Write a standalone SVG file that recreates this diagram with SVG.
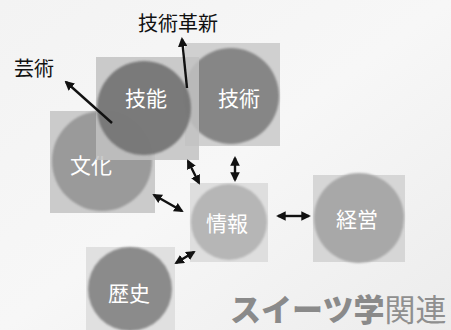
<svg xmlns="http://www.w3.org/2000/svg" width="451" height="330" viewBox="0 0 451 330">
<defs>
<linearGradient id="bg" x1="0" y1="0" x2="1" y2="1">
<stop offset="0" stop-color="#f3f3f3"/>
<stop offset="0.5" stop-color="#f7f7f7"/>
<stop offset="1" stop-color="#ececec"/>
</linearGradient>
<filter id="soft" x="-10%" y="-10%" width="120%" height="120%"><feGaussianBlur stdDeviation="0.9"/></filter>
<marker id="ah" viewBox="0 0 10 10" refX="8" refY="5" markerWidth="4" markerHeight="4" orient="auto-start-reverse">
<path d="M0,0 L10,5 L0,10 z" fill="#111"/>
</marker>
<style>
.lbl{font-family:"Noto Sans CJK JP","Noto Sans",sans-serif;font-size:21px;fill:#fff;text-anchor:middle;dominant-baseline:central}
.cap{font-family:"Noto Sans CJK JP","Noto Sans",sans-serif;font-size:20px;fill:#111}
.ar{stroke:#111;stroke-width:2.4;fill:none;marker-end:url(#ah)}
.ar2{stroke:#111;stroke-width:2.4;fill:none;marker-end:url(#ah);marker-start:url(#ah)}
</style>
</defs>
<rect width="451" height="330" fill="url(#bg)"/>

<g id="bunka">
<rect x="50" y="111" width="105" height="102" fill="#cbcbcb"/>
<circle cx="102" cy="161" r="50" fill="#9a9a9a" filter="url(#soft)"/>
<text class="lbl" x="91" y="164">文化</text>
</g>
<g id="gijutsu">
<rect x="185" y="43" width="95" height="103" fill="#d0d0d0"/>
<circle cx="231" cy="96" r="48" fill="#868686" filter="url(#soft)"/>
<text class="lbl" x="239" y="97" font-size="22">技術</text>
</g>
<g id="ginou">
<rect x="96" y="57" width="103" height="103" fill="#c2c2c2" opacity="0.85"/>
<circle cx="144" cy="108" r="47" fill="#707070" opacity="0.88" filter="url(#soft)"/>
<text class="lbl" x="146" y="97" font-size="24">技能</text>
</g>
<g id="jouhou">
<rect x="190" y="183" width="78" height="79" fill="#dedede"/>
<circle cx="229" cy="222" r="38" fill="#b6b6b6" filter="url(#soft)"/>
<text class="lbl" x="227" y="222">情報</text>
</g>
<g id="keiei">
<rect x="313" y="175" width="92" height="87" fill="#d6d6d6"/>
<circle cx="359" cy="218" r="45" fill="#a8a8a8" filter="url(#soft)"/>
<text class="lbl" x="357" y="218">経営</text>
</g>
<g id="rekishi">
<rect x="86" y="247" width="89" height="83" fill="#e0e0e0"/>
<circle cx="130" cy="289" r="42" fill="#8b8b8b" filter="url(#soft)"/>
<text class="lbl" x="129" y="292">歴史</text>
</g>

<g id="connectors">
<line class="ar" x1="112" y1="123" x2="66" y2="82"/>
<line class="ar" x1="187" y1="88" x2="182" y2="39"/>
<line class="ar2" x1="235" y1="158" x2="235" y2="180"/>
<line class="ar2" x1="188" y1="161" x2="199" y2="183"/>
<line class="ar2" x1="154" y1="195" x2="182" y2="211"/>
<line class="ar2" x1="176" y1="263" x2="194" y2="252"/>
<line class="ar2" x1="278" y1="216" x2="309" y2="216"/>
</g>

<g id="labels">
<text class="cap" x="138" y="31">技術革新</text>
<text class="cap" x="14" y="76">芸術</text>
<text x="230" y="321" font-family="'Noto Sans CJK JP',sans-serif" font-size="31" fill="#8a8a8a"><tspan font-weight="900">スイーツ学</tspan><tspan font-weight="400" fill="#8f8f8f">関連</tspan></text>
</g>
</svg>
